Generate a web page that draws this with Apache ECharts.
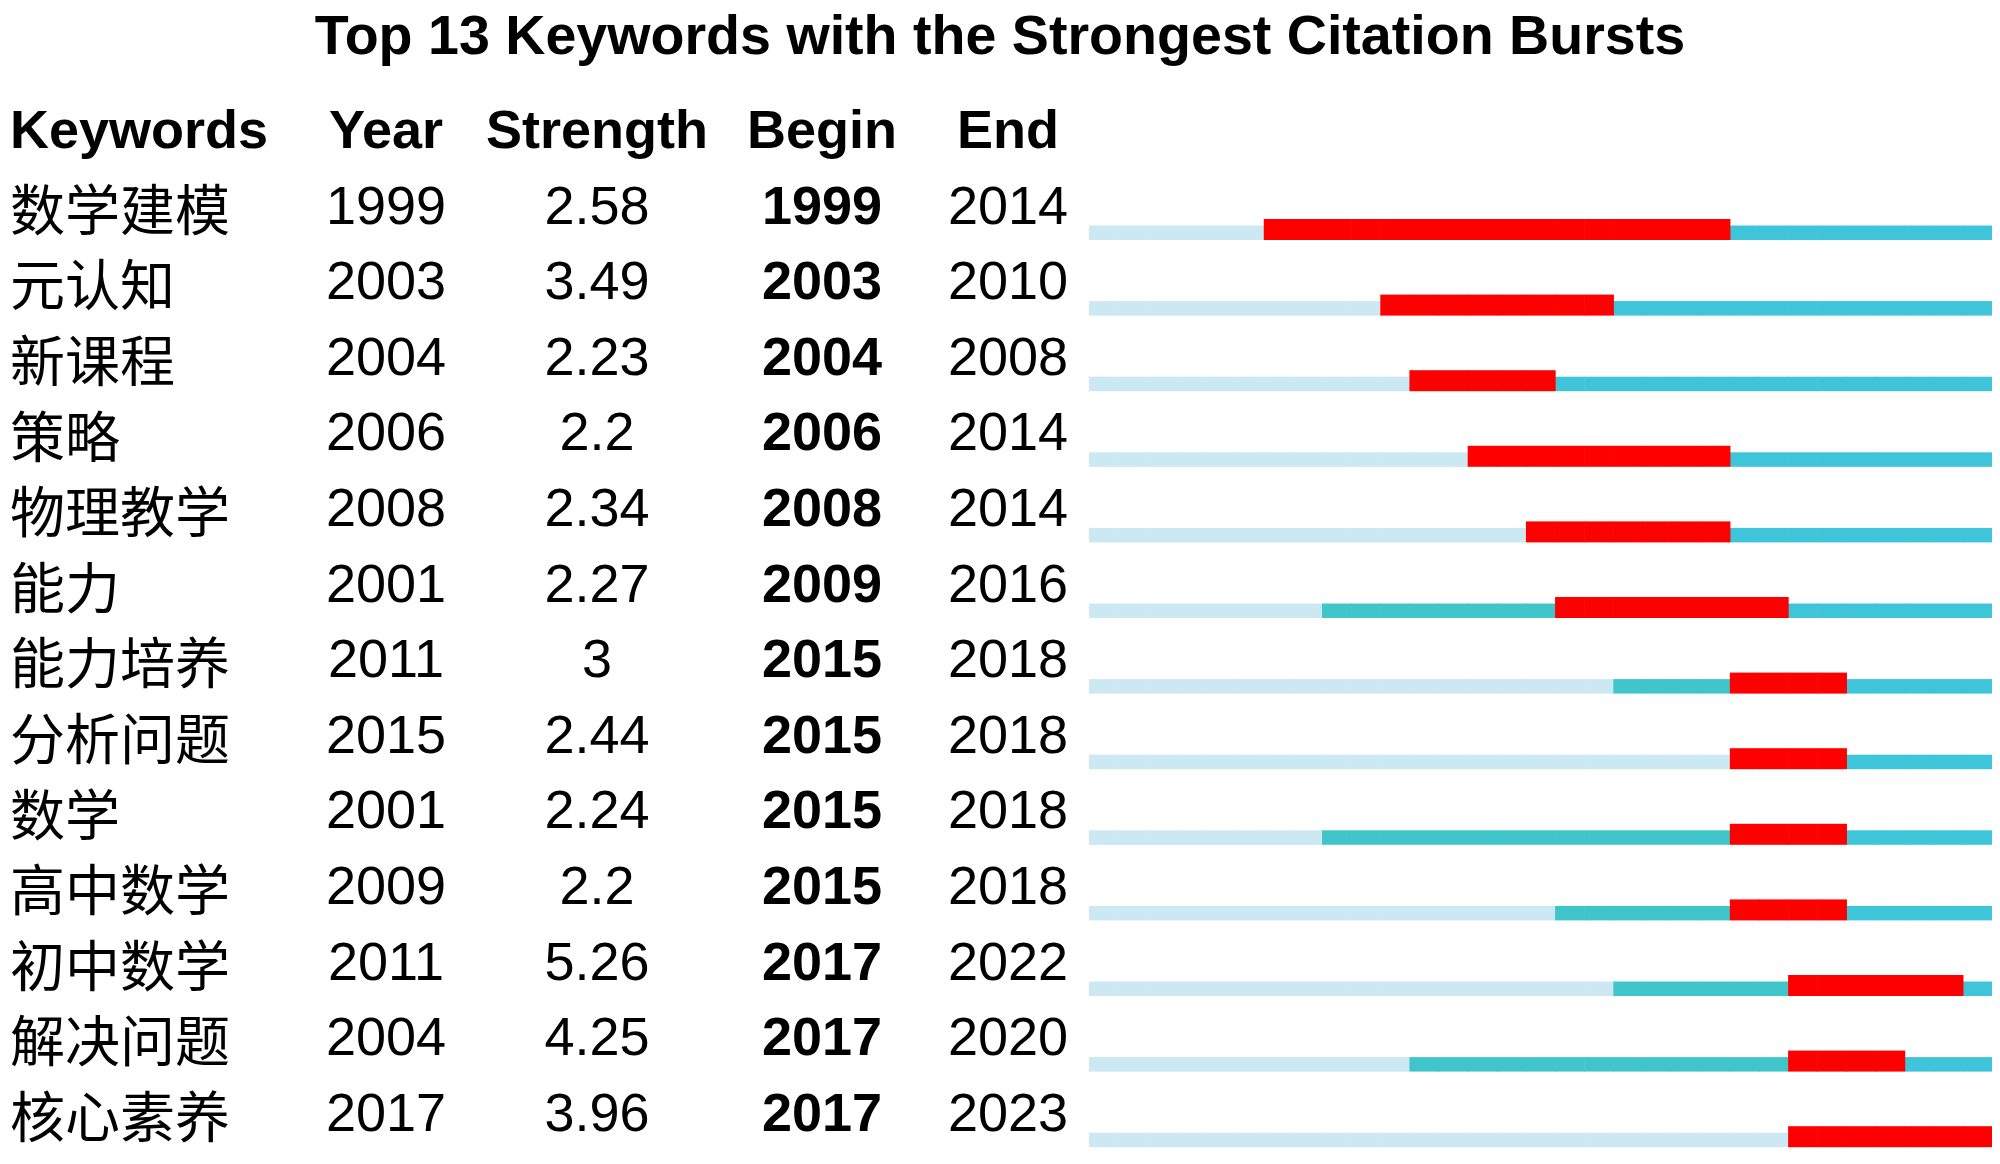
<!DOCTYPE html>
<html><head><meta charset="utf-8">
<script src="https://cdn.jsdelivr.net/npm/echarts@6/dist/echarts.min.js"></script>
<style>html,body{margin:0;padding:0;background:#fff}#c{width:2000px;height:1164px}</style>
</head><body><div id="c"></div>
<script>
// ---- data ----
const title = 'Top 13 Keywords with the Strongest Citation Bursts';
const headers = ['Keywords', 'Year', 'Strength', 'Begin', 'End'];
const keywords = ['数学建模','元认知','新课程','策略','物理教学','能力','能力培养','分析问题','数学','高中数学','初中数学','解决问题','核心素养'];
const years = [1999, 2003, 2004, 2006, 2008, 2001, 2011, 2015, 2001, 2009, 2011, 2004, 2017];
const strengths = [2.58, 3.49, 2.23, 2.2, 2.34, 2.27, 3, 2.44, 2.24, 2.2, 5.26, 4.25, 3.96];
const begins = [1999, 2003, 2004, 2006, 2008, 2009, 2015, 2015, 2015, 2015, 2017, 2017, 2017];
const ends = [2014, 2010, 2008, 2014, 2014, 2016, 2018, 2018, 2018, 2018, 2022, 2020, 2023];
const timeStart = 1993, timeEnd = 2023;

// ---- derived tables ----
// state: 0 = before first appearance, 1 = present (pre-burst), 2 = burst, 3 = present (post-burst)
const cells = [];
keywords.forEach((k, i) => {
  for (let y = timeStart; y <= timeEnd; y++) {
    let s = 0;
    if (y >= begins[i] && y <= ends[i]) s = 2;
    else if (y > ends[i]) s = 3;
    else if (y >= years[i]) s = 1;
    cells.push([y, i, s]);
  }
});
const rows = keywords.map((k, i) => [i, k, years[i], strengths[i], begins[i], ends[i]]);

const LATIN = "'Liberation Sans', Arial, 'Noto Sans CJK SC', sans-serif";
const CJK = "'Noto Sans CJK SC', sans-serif";
const colX = [10, 386, 597, 822, 1008];
const cellColors = ['#cce8f3', '#40c6ca', '#ff0000', '#3fc5d9'];
const TEXT_DY = -4;

const chart = echarts.init(document.getElementById('c'), null, {renderer: 'canvas'});
chart.setOption({
  backgroundColor: '#ffffff',
  animation: false,
  title: {
    text: title, left: 'center', top: 11, padding: 0,
    textStyle: {fontFamily: LATIN, fontSize: 55.6, fontWeight: 'bold', color: '#000'}
  },
  grid: {left: 1089, right: 8, top: 175, height: 982.8},
  xAxis: {type: 'value', min: timeStart, max: timeEnd + 1, show: false},
  yAxis: {type: 'category', data: keywords, inverse: true, show: false},
  graphic: headers.map((h, j) => ({
    type: 'text', x: colX[j], y: 175 - 37.8 + TEXT_DY,
    style: {text: h, fontFamily: LATIN, fontSize: 54, fontWeight: 'bold', fill: '#000',
      align: j === 0 ? 'left' : 'center', verticalAlign: 'middle'}
  })),
  series: [
    {
      type: 'custom',
      data: cells,
      renderItem: function (params, api) {
        const yr = api.value(0), row = api.value(1), st = api.value(2);
        const p0 = api.coord([yr, row]);
        const p1 = api.coord([yr + 1, row]);
        const bottom = p0[1] + 27.2;
        const h = st === 2 ? 21 : 14.5;
        const last = yr === timeEnd;
        return {
          type: 'rect',
          z2: st === 2 ? 2 : 1,
          shape: {x: p0[0], y: bottom - h, width: p1[0] - p0[0] + (last ? 0 : 0.6), height: h},
          style: {fill: cellColors[st]}
        };
      }
    },
    {
      type: 'custom',
      data: rows,
      renderItem: function (params, api) {
        const i = params.dataIndex;
        const c = api.coord([timeStart, i]);
        const y = c[1] + TEXT_DY;
        const vals = [keywords[i], String(years[i]), String(strengths[i]), String(begins[i]), String(ends[i])];
        return {
          type: 'group',
          children: vals.map((v, j) => ({
            type: 'text', x: colX[j], y: y,
            style: {
              text: v,
              fontFamily: j === 0 ? CJK : LATIN,
              fontSize: j === 0 ? 55 : 54,
              fontWeight: j === 3 ? 'bold' : 'normal',
              fill: '#000',
              align: j === 0 ? 'left' : 'center',
              verticalAlign: 'middle'
            }
          }))
        };
      }
    }
  ]
});
</script>
</body></html>
